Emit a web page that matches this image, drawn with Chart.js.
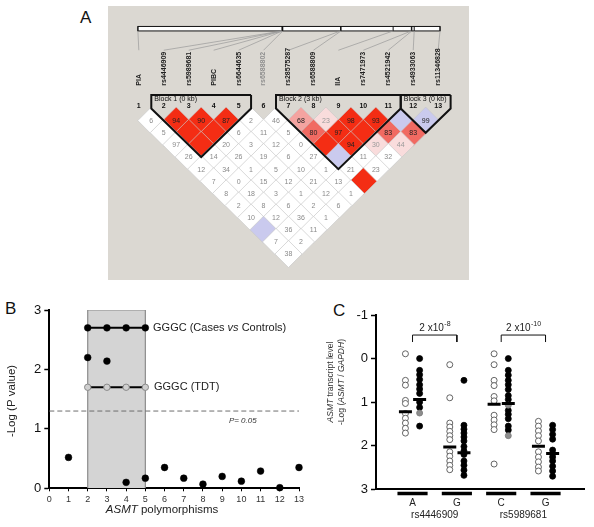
<!DOCTYPE html>
<html>
<head>
<meta charset="utf-8">
<script src="https://cdn.jsdelivr.net/npm/chart.js@4.4.0/dist/chart.umd.min.js"></script>
<style>
  body { margin: 0; background: #fff; width: 594px; height: 527px; position: relative; overflow: hidden;
         font-family: 'Liberation Sans', Arial, Helvetica, sans-serif; }
  canvas { position: absolute; }
  .panel { position: absolute; font-size: 17px; color: #111; line-height: 20px; }
</style>
</head>
<body>
<div class="panel" style="left:80px;top:8px">A</div>
<div class="panel" style="left:5px;top:299px">B</div>
<div class="panel" style="left:333px;top:301px">C</div>
<canvas id="ld" width="361" height="274" style="left:108px;top:6px;background:#dbd8d2"></canvas>
<canvas id="assoc" width="310" height="231" style="left:0;top:296px"></canvas>
<canvas id="expr" width="276" height="231" style="left:318px;top:296px"></canvas>
<script>
const FONT = "'Liberation Sans', Arial, Helvetica, sans-serif";

//----- Panel A: LD plot
const markerNames = ["PIA", "rs4446909", "rs5989681", "PIBC", "rs6644635", "rs6588802", "rs28575287",
  "rs6588809", "IIA", "rs7471973", "rs4521942", "rs4933063", "rs11346828"];
//position of each marker on the physical map (kb from the first one)
const markerKb = [0, 6.1, 6.1, 6.1, 6.1, 6.12, 8.56, 8.58, 10.78, 11.55, 11.57, 11.67, 12.76];
const mapSpanKb = 12.76;
//D' values, one row per marker distance (row 1 = neighbours), "" = 100
const ldValues = [
  ["6", "94", "90", "87", "2", "46", "68", "23", "98", "93", "", "99"],
  ["5", "", "", "6", "11", "5", "80", "97", "", "83", "83"],
  ["97", "", "20", "3", "12", "0", "", "94", "30", "44"],
  ["26", "14", "26", "19", "6", "27", "", "11", "32"],
  ["12", "34", "1", "5", "10", "1", "21", "23"],
  ["7", "0", "15", "12", "21", "13", ""],
  ["8", "18", "3", "1", "12", "1"],
  ["2", "8", "6", "2", "6"],
  ["10", "12", "36", "1"],
  ["", "36", "11"],
  ["7", "2"],
  ["38"]
];
//colour class of each cell: w white, r red, m mid red, p pink, l light pink, b blue
const ldClass = ["wrrrwwplrrbb", "wrrwwwmrrmm", "wrwwwwrrll", "wwwwwwbww", "wwwwwwww", "wwwwwwr",
  "wwwwww", "wwwww", "wwww", "bww", "ww", "w"];
const ldColors = { w: "#ffffff", r: "#f42d14", m: "#f16a62", p: "#f4a3a0", l: "#f9dcdc", b: "#cacaee" };
const blocks = [
  { name: "Block 1 (0 kb)", from: 2, to: 5 },
  { name: "Block 2 (3 kb)", from: 7, to: 11 },
  { name: "Block 3 (0 kb)", from: 12, to: 13 }
];

const CELL = 13.54;
const ldPoints = [];
ldValues.forEach((row, k) => {
  const d = k + 1;
  row.forEach((v, n) => {
    ldPoints.push({ x: n + 1 + d / 2, y: d, v: v, c: ldClass[k][n] });
  });
});
//outline of a block: top edge, down the left side, to the bottom tip, back up
const blockPath = (b) => [
  { x: b.to + 0.5, y: -1.12 }, { x: b.from - 0.5, y: -1.12 }, { x: b.from - 0.5, y: 0 },
  { x: (b.from + b.to) / 2, y: b.to - b.from + 1 },
  { x: b.to + 0.5, y: 0 }, { x: b.to + 0.5, y: -1.12 }
];

const ldLabels = {
  id: "ldLabels",
  afterDatasetsDraw(chart) {
    const ctx = chart.ctx;
    const xs = chart.scales.x, ys = chart.scales.y;
    ctx.save();
    //numbers in the cells
    ctx.textAlign = "center";
    ctx.textBaseline = "middle";
    ctx.font = "7px " + FONT;
    chart.getDatasetMeta(blocks.length).data.forEach((el, idx) => {
      const p = ldPoints[idx];
      if (!p.v) return;
      ctx.fillStyle = p.c === "w" ? "#8a8a8a" : p.c === "l" ? "#9a9a9a" : "#222";
      ctx.fillText(p.v, el.x, el.y + 0.5);
    });
    //marker numbers
    ctx.font = "bold 7px " + FONT;
    ctx.fillStyle = "#111";
    markerNames.forEach((n, i) => ctx.fillText(String(i + 1), xs.getPixelForValue(i + 1), ys.getPixelForValue(-0.2)));
    //block titles
    ctx.textAlign = "left";
    ctx.font = "7px " + FONT;
    blocks.forEach(b => ctx.fillText(b.name, xs.getPixelForValue(b.from - 0.5) + 3, ys.getPixelForValue(-0.8)));
    //physical map bar
    const toUnit = kb => 0.963 + kb / mapSpanKb * (13.075 - 0.963);
    const barL = xs.getPixelForValue(toUnit(0)), barR = xs.getPixelForValue(toUnit(mapSpanKb));
    const barT = ys.getPixelForValue(-6.76), barB = ys.getPixelForValue(-6.39);
    ctx.fillStyle = "#fff";
    ctx.fillRect(barL, barT, barR - barL, barB - barT);
    ctx.strokeStyle = "#111";
    ctx.lineWidth = 1;
    ctx.strokeRect(barL, barT, barR - barL, barB - barT);
    markerKb.forEach((kb, i) => {
      const bx = xs.getPixelForValue(toUnit(kb));
      ctx.strokeStyle = "#111";
      ctx.beginPath(); ctx.moveTo(bx, barT); ctx.lineTo(bx, barB); ctx.stroke();
      ctx.strokeStyle = "#9a9a9a";
      ctx.lineWidth = 0.7;
      ctx.beginPath(); ctx.moveTo(bx, barB); ctx.lineTo(xs.getPixelForValue(i + 1), ys.getPixelForValue(-4.8)); ctx.stroke();
      ctx.lineWidth = 1;
    });
    //marker names, vertical
    ctx.font = "bold 7px " + FONT;
    ctx.textBaseline = "middle";
    markerNames.forEach((n, i) => {
      ctx.save();
      ctx.translate(xs.getPixelForValue(i + 1), ys.getPixelForValue(-1.88));
      ctx.rotate(-Math.PI / 2);
      ctx.fillStyle = i === 5 ? "#8f8f8f" : "#222";
      ctx.fillText(n, 0, 0);
      ctx.restore();
    });
    ctx.restore();
  }
};

new Chart(document.getElementById("ld"), {
  type: "scatter",
  data: {
    datasets: blocks.map(b => ({
      data: blockPath(b), showLine: true, borderColor: "#111", borderWidth: 2,
      pointRadius: 0, borderJoinStyle: "miter", clip: false
    })).concat([{
      data: ldPoints,
      pointStyle: "rectRot",
      pointRadius: CELL,
      backgroundColor: (c) => ldColors[c.raw ? c.raw.c : "w"],
      borderColor: "#c9c9c9",
      borderWidth: 0.7,
      clip: false
    }])
  },
  options: {
    responsive: false, animation: false, devicePixelRatio: 1, events: [],
    layout: { padding: 0 },
    plugins: { legend: { display: false }, tooltip: { enabled: false } },
    scales: {
      x: { type: "linear", display: false, min: 0.3353, max: 13.666 },
      y: { type: "linear", display: false, reverse: true, min: -7.272, max: 12.965 }
    }
  },
  plugins: [ldLabels]
});

//----- Panel B: association
const snpIndex = [1, 2, 3, 4, 5, 6, 7, 8, 9, 10, 11, 12, 13];
const snpLogP = [0.52, 2.20, 2.14, 0.10, 0.17, 0.35, 0.17, 0.07, 0.20, 0.12, 0.29, 0.01, 0.35];
const hapSnps = [2, 3, 4, 5];
const hapCaseControl = 2.70;
const hapTDT = 1.70;
const sigLevel = 1.30;
const blockSnps = [2, 5];

function drawRich(ctx, parts, x, y, align, size, color) {
  let total = 0;
  const w = parts.map(p => { ctx.font = (p[1] ? "italic " : "") + size + "px " + FONT; const m = ctx.measureText(p[0]).width; total += m; return m; });
  let cx = align === "center" ? x - total / 2 : align === "right" ? x - total : x;
  ctx.textAlign = "left";
  ctx.fillStyle = color || "#222";
  parts.forEach((p, i) => { ctx.font = (p[1] ? "italic " : "") + size + "px " + FONT; ctx.fillText(p[0], cx, y); cx += w[i]; });
}

const assocLabels = {
  id: "assocLabels",
  afterDraw(chart) {
    const ctx = chart.ctx, xs = chart.scales.x, ys = chart.scales.y;
    ctx.save();
    ctx.textBaseline = "middle";
    drawRich(ctx, [["GGGC (Cases ", false], ["vs", true], [" Controls)", false]],
      xs.getPixelForValue(5.4), ys.getPixelForValue(hapCaseControl), "left", 11, "#222");
    drawRich(ctx, [["GGGC (TDT)", false]], xs.getPixelForValue(5.45), ys.getPixelForValue(hapTDT), "left", 11, "#222");
    drawRich(ctx, [["P= 0.05", true]], xs.getPixelForValue(9.35), ys.getPixelForValue(1.14), "left", 8, "#333");
    drawRich(ctx, [["ASMT", true], [" polymorphisms", false]], xs.getPixelForValue(5.87), 214, "center", 11.5, "#222");
    ctx.translate(12, 105);
    ctx.rotate(-Math.PI / 2);
    drawRich(ctx, [["-Log (P value)", false]], 0, 0, "center", 11.5, "#222");
    ctx.restore();
  }
};

new Chart(document.getElementById("assoc"), {
  type: "scatter",
  data: {
    datasets: [
      { data: snpIndex.map((x, i) => ({ x: x, y: snpLogP[i] })), pointRadius: 3.4, borderWidth: 0.5,
        backgroundColor: "#000", borderColor: "#000", clip: false },
      { data: hapSnps.map(x => ({ x: x, y: hapCaseControl })), showLine: true, borderColor: "#000",
        borderWidth: 2, pointRadius: 3.4, pointBorderWidth: 0.5, backgroundColor: "#000", pointBorderColor: "#000", clip: false },
      { data: hapSnps.map(x => ({ x: x, y: hapTDT })), showLine: true, borderColor: "#000",
        borderWidth: 2, pointRadius: 3.2, pointBackgroundColor: "#cfcfcf", pointBorderColor: "#8a8a8a",
        pointBorderWidth: 1, clip: false },
      { data: [{ x: 0, y: sigLevel }, { x: 13, y: sigLevel }], showLine: true, borderColor: "#6e6e6e",
        borderWidth: 1, borderDash: [5, 3], pointRadius: 0, clip: false },
      { data: [{ x: blockSnps[0], y: 0 }, { x: blockSnps[0], y: 3 }, { x: blockSnps[1], y: 3 }, { x: blockSnps[1], y: 0 }],
        showLine: true, fill: "origin", backgroundColor: "#d4d4d4", borderColor: "#8a8a8a",
        borderWidth: 1.2, pointRadius: 0 }
    ]
  },
  options: {
    responsive: false, animation: false, devicePixelRatio: 1, events: [],
    layout: { padding: { top: 14, right: 11, bottom: 0, left: 0 } },
    plugins: { legend: { display: false }, tooltip: { enabled: false } },
    scales: {
      x: {
        type: "linear", min: 0, max: 13,
        afterFit: (s) => { s.height = 38.7; },
        ticks: { stepSize: 1, autoSkip: false, maxRotation: 0, padding: 3, color: "#333", font: { family: FONT, size: 9 } },
        grid: { display: true, drawOnChartArea: false, tickLength: 3, tickColor: "#000", tickWidth: 1 },
        border: { color: "#000", width: 2 }
      },
      y: {
        type: "linear", min: 0, max: 3,
        afterFit: (s) => { s.width = 49.3; },
        ticks: { stepSize: 1, padding: 3, color: "#111", font: { family: FONT, size: 13 } },
        grid: { display: true, drawOnChartArea: false, tickLength: 5, tickColor: "#000", tickWidth: 1.5 },
        border: { color: "#000", width: 2 }
      }
    }
  },
  plugins: [assocLabels]
});

//----- Panel C: transcript level by genotype
const genotypes = ["A", "G", "C", "G"];
const snpGroups = ["rs4446909", "rs5989681"];
const openVals = [
  [-0.11, 0.50, 0.61, 0.96, 1.03, 1.26, 1.37, 1.48, 1.60, 1.71],
  [0.14, 0.90, 1.48, 1.57, 1.67, 1.77, 1.86, 2.14, 2.24, 2.35, 2.45, 2.55],
  [-0.11, 0.14, 0.50, 0.62, 0.87, 0.97, 1.30, 1.41, 1.52, 1.63, 2.42],
  [1.44, 1.55, 1.66, 1.77, 1.89, 2.14, 2.26, 2.37, 2.49, 2.58]
];
const filledVals = [
  [0.0, 0.27, 0.37, 0.48, 0.60, 0.70, 0.80, 1.00, 1.12, 1.55],
  [0.50, 1.53, 1.62, 1.71, 1.80, 1.89, 2.02, 2.12, 2.20, 2.35, 2.45, 2.56, 2.68],
  [0.0, 0.27, 0.38, 0.50, 0.60, 0.71, 0.85, 0.94, 1.19, 1.28, 1.38, 1.55, 1.64],
  [1.53, 1.63, 1.74, 1.85, 2.10, 2.18, 2.26, 2.35, 2.47, 2.58, 2.70]
];
const grayVals = [[1.25], [], [1.07, 1.77], []];
const medOpen = [1.22, 2.03, 1.05, 2.01];
const medFilled = [0.94, 2.16, 1.03, 2.18];
const pBrackets = [
  { from: 1, to: 2, base: "2 x10", exp: "-8" },
  { from: 3, to: 4, base: "2 x10", exp: "-10" }
];
const OFF = 0.16;

const colPoints = (vals, off) => vals.flatMap((col, k) => col.map(v => ({ x: k + 1 + off, y: v })));

const exprLabels = {
  id: "exprLabels",
  afterDraw(chart) {
    const ctx = chart.ctx, xs = chart.scales.x, ys = chart.scales.y;
    ctx.save();
    ctx.textBaseline = "middle";
    //p value labels above brackets
    pBrackets.forEach(b => {
      const cx = xs.getPixelForValue((b.from + b.to) / 2), cy = ys.getPixelForValue(-0.69);
      ctx.font = "10px " + FONT;
      const wb = ctx.measureText(b.base).width;
      ctx.font = "7px " + FONT;
      const we = ctx.measureText(b.exp).width;
      const x0 = cx - (wb + we) / 2;
      ctx.fillStyle = "#222";
      ctx.textAlign = "left";
      ctx.font = "10px " + FONT;
      ctx.fillText(b.base, x0, cy);
      ctx.font = "7px " + FONT;
      ctx.fillText(b.exp, x0 + wb + 0.5, cy - 4);
    });
    //genotype bars and names under the axis
    ctx.strokeStyle = "#000";
    ctx.lineWidth = 3.5;
    ctx.textAlign = "center";
    genotypes.forEach((g, k) => {
      ctx.beginPath();
      ctx.moveTo(xs.getPixelForValue(k + 1 - 0.34), 197.5);
      ctx.lineTo(xs.getPixelForValue(k + 1 + 0.34), 197.5);
      ctx.stroke();
      ctx.font = "10px " + FONT;
      ctx.fillStyle = "#222";
      ctx.fillText(g, xs.getPixelForValue(k + 1), 207.5);
    });
    snpGroups.forEach((s, n) => ctx.fillText(s, xs.getPixelForValue(2 * n + 1.5), 219.5));
    //axis title, two lines
    ctx.translate(12.5, 86);
    ctx.rotate(-Math.PI / 2);
    drawRich(ctx, [["ASMT", true], [" transcript level", false]], 0, 0, "center", 8.5, "#333");
    drawRich(ctx, [["-Log (", false], ["ASMT", true], [" / ", false], ["GAPDH", true], [")", false]], 0, 11.5, "center", 8.5, "#333");
    ctx.restore();
  }
};

new Chart(document.getElementById("expr"), {
  type: "scatter",
  data: {
    datasets: [
      { data: medOpen.map((v, k) => ({ x: k + 1 - OFF, y: v })).concat(medFilled.map((v, k) => ({ x: k + 1 + OFF, y: v }))),
        pointStyle: "line", pointRadius: 6.5, borderColor: "#000", borderWidth: 3 },
      ...pBrackets.map(b => ({
        data: [{ x: b.from, y: -0.38 }, { x: b.from, y: -0.54 }, { x: b.to, y: -0.54 }, { x: b.to, y: -0.38 }],
        showLine: true, borderColor: "#111", borderWidth: 1, pointRadius: 0
      })),
      { data: colPoints(grayVals, OFF), pointRadius: 3, backgroundColor: "#8d8d8d", borderColor: "#777", borderWidth: 0.8 },
      { data: colPoints(filledVals, OFF), pointRadius: 3, backgroundColor: "#000", borderColor: "#000", borderWidth: 0.8 },
      { data: colPoints(openVals, -OFF), pointRadius: 3, backgroundColor: "#fff", borderColor: "#555", borderWidth: 0.9 }
    ]
  },
  options: {
    responsive: false, animation: false, devicePixelRatio: 1, events: [],
    layout: { padding: { top: 19, right: 4, bottom: 0, left: 0 } },
    plugins: { legend: { display: false }, tooltip: { enabled: false } },
    scales: {
      x: {
        type: "linear", min: 0.176, max: 4.879,
        afterFit: (s) => { s.height = 37.7; },
        ticks: { display: false },
        grid: { display: false },
        border: { color: "#000", width: 2 }
      },
      y: {
        type: "linear", min: -1, max: 3, reverse: true,
        afterFit: (s) => { s.width = 58; },
        ticks: { stepSize: 1, padding: 3, color: "#111", font: { family: FONT, size: 13 } },
        grid: { display: true, drawOnChartArea: false, tickLength: 5, tickColor: "#000", tickWidth: 1.5 },
        border: { color: "#000", width: 2 }
      }
    }
  },
  plugins: [exprLabels]
});
</script>
</body>
</html>
